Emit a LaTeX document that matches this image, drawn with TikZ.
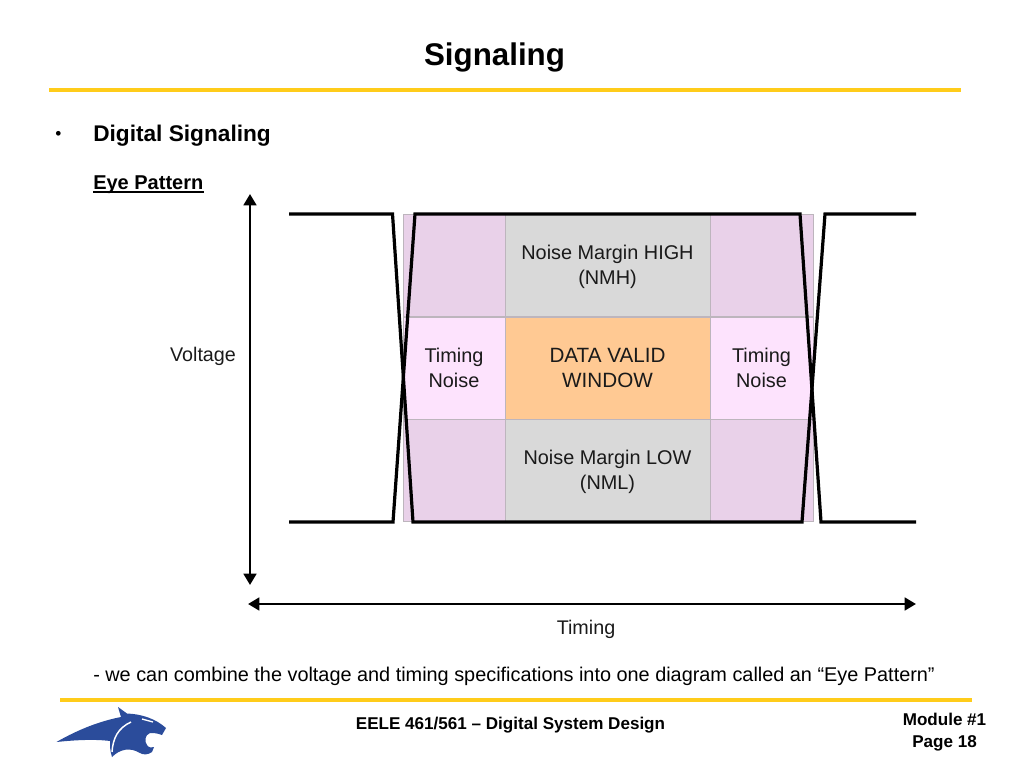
\documentclass[tikz,border=0pt]{standalone}
\usepackage{fontspec}
\setmainfont{Liberation Sans}
\usepackage{tikz}
\usetikzlibrary{arrows.meta,calc,positioning}
\definecolor{ruleGold}{HTML}{FFCC1A}
\definecolor{marginGrey}{HTML}{D9D9D9}
\definecolor{cornerPink}{HTML}{E9D1E9}
\definecolor{timingPink}{HTML}{FDE3FD}
\definecolor{validOrange}{HTML}{FFC993}
\definecolor{cellEdge}{HTML}{BDB5BD}
\definecolor{catBlue}{HTML}{2B4C9B}
\definecolor{labelGrey}{HTML}{1A1A1A}
\tikzset{
  cell/.style={draw=cellEdge,line width=0.6pt,inner sep=0pt,align=center,text=labelGrey,font=\fontsize{14.9}{18.4}\selectfont},
  trace/.style={line width=2.4pt,line join=miter},
  axis/.style={line width=2pt,{Stealth[length=8.5pt,width=9.5pt,inset=0pt]}-{Stealth[length=8.5pt,width=9.5pt,inset=0pt]}},
  goldrule/.style={ruleGold,line width=3pt},
  slidetext/.style={inner sep=0pt,anchor=base west}
}
\begin{document}
\begin{tikzpicture}[x=0.75pt,y=-0.75pt]
\useasboundingbox (0,0) rectangle (1024,768);
% title and rules
\node[inner sep=0pt,font=\fontsize{23.5}{26}\selectfont\bfseries] (title) at (494.5,57.5) {Signaling};
\coordinate (ruleA) at (49,89.5);
\coordinate (ruleB) at (961,89.5);
\draw[goldrule] (ruleA) -- (ruleB);
\node[slidetext,font=\fontsize{13}{18}\selectfont] (bullet) at (55,139) {•};
\node[slidetext,font=\fontsize{17}{18}\selectfont\bfseries] (heading) at (93,141) {Digital Signaling};
\node[slidetext,font=\fontsize{15}{16}\selectfont\bfseries] (eye) at (93,189) {Eye Pattern};
\draw[line width=0.9pt] (eye.base west) ++(0,3) -- ($(eye.base east)+(0,3)$);
% eye cells
\node[cell,fill=cornerPink,minimum width=76.5pt,minimum height=77pt] (tl) at (454,265.5) {};
\node[cell,fill=marginGrey,minimum width=153.75pt,minimum height=77pt] (nmh) at (607.5,265.5) {\rule{0pt}{13pt}Noise Margin HIGH\\(NMH)};
\node[cell,fill=cornerPink,minimum width=77.25pt,minimum height=77pt] (tr) at (761.5,265.5) {};
\node[cell,fill=timingPink,minimum width=76.5pt,minimum height=76.5pt] (tnl) at (454,368) {Timing\\Noise};
\node[cell,fill=validOrange,minimum width=153.75pt,minimum height=76.5pt,font=\fontsize{15.5}{18.4}\selectfont] (valid) at (607.5,368) {DATA VALID\\WINDOW};
\node[cell,fill=timingPink,minimum width=77.25pt,minimum height=76.5pt] (tnr) at (761.5,368) {Timing\\Noise};
\node[cell,fill=cornerPink,minimum width=76.5pt,minimum height=77pt] (bl) at (454,470.5) {};
\node[cell,fill=marginGrey,minimum width=153.75pt,minimum height=77pt] (nml) at (607.5,470.5) {\rule{0pt}{13pt}Noise Margin LOW\\(NML)};
\node[cell,fill=cornerPink,minimum width=77.25pt,minimum height=77pt] (br) at (761.5,470.5) {};
% signal traces
\coordinate (L1) at (289,214);
\coordinate (L2) at (392.5,214);
\coordinate (L3) at (413,522);
\coordinate (L4) at (802,522);
\coordinate (L5) at (825,214);
\coordinate (L6) at (916,214);
\coordinate (M1) at (289,522);
\coordinate (M2) at (393,522);
\coordinate (M3) at (415,214);
\coordinate (M4) at (800,214);
\coordinate (M5) at (821,522);
\coordinate (M6) at (916,522);
\draw[trace] (L1) -- (L2) -- (L3) -- (L4) -- (L5) -- (L6);
\draw[trace] (M1) -- (M2) -- (M3) -- (M4) -- (M5) -- (M6);
% axes
\coordinate (vTop) at (250,194);
\coordinate (vBot) at (250,585);
\coordinate (hLeft) at (248,604);
\coordinate (hRight) at (916,604);
\draw[axis] (vTop) -- (vBot);
\draw[axis] (hLeft) -- (hRight);
\node[inner sep=0pt,text=labelGrey,font=\fontsize{14.8}{18}\selectfont] (voltage) at (203,356.5) {Voltage};
\node[inner sep=0pt,text=labelGrey,font=\fontsize{14.8}{18}\selectfont] (timing) at (586,629) {Timing};
\node[slidetext,font=\fontsize{14.9}{16}\selectfont] (note) at (93,681.5) {- we can combine the voltage and timing specifications into one diagram called an “Eye Pattern”};
% footer
\coordinate (footA) at (60,700);
\coordinate (footB) at (972,700);
\draw[goldrule] (footA) -- (footB);
\fill[catBlue] (56.5,742) .. controls (72,733) and (95,722) .. (121,717)
  -- (118,707) -- (127,713.5) .. controls (142,714) and (156,719) .. (166,728)
  -- (162,735) .. controls (157,733) and (153,733) .. (150,733)
  .. controls (145,735) and (144,741) .. (147,745)
  .. controls (149,748) and (152,748) .. (154,747)
  -- (152,752) .. controls (148,755) and (143,755) .. (140,753)
  .. controls (130,747) and (120,749) .. (112,757)
  .. controls (110,751) and (110,746) .. (110,741)
  .. controls (95,739) and (75,740) .. cycle;
\draw[white,line width=1.1pt] (112,752) .. controls (113,738) and (118,728) .. (131,722);
\draw[white,line width=1pt] (142,719) -- (153,722);
\node[inner sep=0pt,font=\fontsize{12.8}{14}\selectfont\bfseries] (course) at (510.5,725) {EELE 461/561 – Digital System Design};
\node[inner sep=0pt,align=center,font=\fontsize{12.8}{16}\selectfont\bfseries] (page) at (944.5,732) {Module \#1\\Page 18};
\end{tikzpicture}
\end{document}
